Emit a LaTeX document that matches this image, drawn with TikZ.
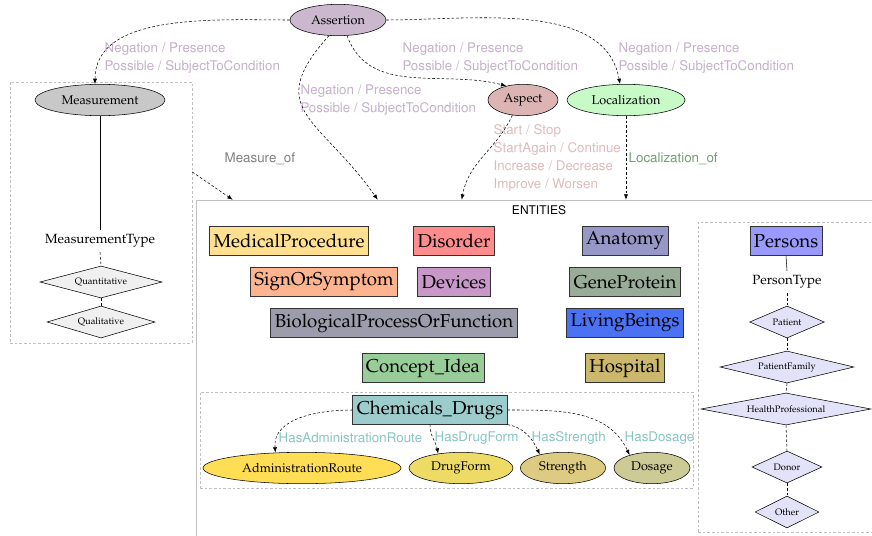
\documentclass[tikz,border=0pt]{standalone}
\usepackage[T1]{fontenc}
\usepackage{mathpazo}
\usepackage{helvet}
\usetikzlibrary{shapes.geometric, arrows.meta, positioning, calc}
\definecolor{assertfill}{HTML}{CBB8CF}
\definecolor{measfill}{HTML}{C8C8C8}
\definecolor{aspectfill}{HTML}{DCB4B4}
\definecolor{locfill}{HTML}{C8FAC8}
\definecolor{neglbl}{HTML}{C4B0C8}
\definecolor{aspectlbl}{HTML}{E0BABA}
\definecolor{loclbl}{HTML}{6FA06F}
\definecolor{druglbl}{HTML}{88C4C4}
\definecolor{medproc}{HTML}{FFE090}
\definecolor{disorder}{HTML}{FF8C8C}
\definecolor{anatomy}{HTML}{9898C8}
\definecolor{signsym}{HTML}{FFB490}
\definecolor{devices}{HTML}{C898C8}
\definecolor{geneprot}{HTML}{98AC98}
\definecolor{bioproc}{HTML}{9C9CAC}
\definecolor{living}{HTML}{4A72F2}
\definecolor{concept}{HTML}{98CC98}
\definecolor{hospital}{HTML}{CCB86C}
\definecolor{chemdrug}{HTML}{9CCCCC}
\definecolor{adminfill}{HTML}{FFDD55}
\definecolor{formfill}{HTML}{EDDB66}
\definecolor{strengthfill}{HTML}{DCCB80}
\definecolor{dosagefill}{HTML}{CCCB96}
\definecolor{personfill}{HTML}{9999FF}
\definecolor{ptypefill}{HTML}{E2E2F8}
\definecolor{mtypefill}{HTML}{F0F0F0}

\begin{document}
\begin{tikzpicture}[
    x=0.75pt, y=-0.75pt,
    entity/.style={rectangle, draw=black!80, minimum height=21.5pt, inner xsep=3pt, inner ysep=0pt, font=\fontsize{14}{16}\selectfont},
    concept/.style={ellipse, draw=black, minimum height=23.5pt, inner sep=0pt, font=\fontsize{9.5}{11}\selectfont},
    choice/.style={diamond, draw=black, inner sep=0pt, minimum height=24pt, font=\fontsize{7}{8}\selectfont},
    group/.style={rectangle, draw=black!25, dash pattern=on 2pt off 1.5pt, thin},
    rel/.style={-{Latex[length=4pt,width=3pt]}, dash pattern=on 2pt off 1.5pt, thin},
    lbl/.style={font=\fontsize{10}{13.5}\selectfont\sffamily, align=left, anchor=west}
]
\useasboundingbox (0,0) rectangle (872,536);

% Groups
\node[group, minimum width=136.5pt, minimum height=195.75pt] (measbox) at (101,212.5) {};
\node[rectangle, draw=black!25, minimum width=528pt, minimum height=300pt] (entities) at (548,400) {};
\node[group, minimum width=369.75pt, minimum height=72pt] (drugbox) at (446.5,440) {};
\node[group, minimum width=150pt, minimum height=232.5pt] (personbox) at (798,377) {};
\node[font=\fontsize{9}{11}\selectfont\sffamily] (enttitle) at (539,210) {ENTITIES};

% Top level
\node[concept, fill=assertfill, minimum width=72pt] (assertion) at (338,20) {Assertion};
\node[concept, fill=measfill, minimum width=97.5pt] (measurement) at (100,100) {Measurement};
\node[concept, fill=aspectfill, minimum width=52.5pt] (aspect) at (523,100) {Aspect};
\node[concept, fill=locfill, minimum width=88.5pt] (localization) at (626,100) {Localization};

% Measurement types
\node[font=\fontsize{10}{12}\selectfont] (mtype) at (100,241) {MeasurementType};
\node[choice, fill=mtypefill, aspect=3.8, minimum width=91.5pt] (quanti) at (101,282) {Quantitative};
\node[choice, fill=mtypefill, aspect=3.4, minimum width=81pt] (quali) at (101,322) {Qualitative};

% Entities
\node[entity, fill=medproc] (medproc) at (289,241) {MedicalProcedure};
\node[entity, fill=disorder] (disorder) at (454,241) {Disorder};
\node[entity, fill=anatomy] (anatomy) at (625,241) {Anatomy};
\node[entity, fill=signsym] (signsym) at (324,282) {SignOrSymptom};
\node[entity, fill=devices] (devices) at (454,282) {Devices};
\node[entity, fill=geneprot] (geneprot) at (625,282) {GeneProtein};
\node[entity, fill=bioproc] (bioproc) at (394,323) {BiologicalProcessOrFunction};
\node[entity, fill=living] (living) at (625,323) {LivingBeings};
\node[entity, fill=concept] (concept) at (423,368) {Concept\_Idea};
\node[entity, fill=hospital] (hospital) at (625,368) {Hospital};
\node[entity, fill=chemdrug] (chemdrug) at (430,410) {Chemicals\_Drugs};

% Drug attributes
\node[concept, fill=adminfill, minimum width=148.5pt] (admin) at (302,468) {AdministrationRoute};
\node[concept, fill=formfill, minimum width=78pt] (drugform) at (461,468) {DrugForm};
\node[concept, fill=strengthfill, minimum width=64pt] (strength) at (563,468) {Strength};
\node[concept, fill=dosagefill, minimum width=57pt] (dosage) at (652,468) {Dosage};

% Persons
\node[entity, fill=personfill] (persons) at (786,241) {Persons};
\node[font=\fontsize{10}{12}\selectfont] (ptype) at (787,282) {PersonType};
\node[choice, fill=ptypefill, aspect=2.33, minimum width=56pt] (patient) at (787,322) {Patient};
\node[choice, fill=ptypefill, aspect=4.2, minimum width=100.5pt] (family) at (787,367) {PatientFamily};
\node[choice, fill=ptypefill, aspect=5.3, minimum width=127.5pt] (healthpro) at (786,409) {HealthProfessional};
\node[choice, fill=ptypefill, aspect=2.2, minimum width=52.5pt] (donor) at (787,467) {Donor};
\node[choice, fill=ptypefill, aspect=2, minimum width=48pt] (other) at (787,512) {Other};

% Labels
\node[lbl, text=neglbl] (neg1) at (100,58) {Negation / Presence\\Possible / SubjectToCondition};
\node[lbl, text=neglbl] (neg2) at (296,100) {Negation / Presence\\Possible / SubjectToCondition};
\node[lbl, text=neglbl] (neg3) at (398,58) {Negation / Presence\\Possible / SubjectToCondition};
\node[lbl, text=neglbl] (neg4) at (614,58) {Negation / Presence\\Possible / SubjectToCondition};
\node[lbl, text=aspectlbl] (aspectvals) at (489,158) {Start / Stop\\StartAgain / Continue\\Increase / Decrease\\Improve / Worsen};
\node[lbl, text=loclbl] (locof) at (624,158) {Localization\_of};
\node[lbl, text=black!50] (measof) at (220,158) {Measure\_of};
\node[lbl, text=druglbl] (hasroute) at (274,438) {HasAdministrationRoute};
\node[lbl, text=druglbl] (hasform) at (430,438) {HasDrugForm};
\node[lbl, text=druglbl] (hasstrength) at (527,438) {HasStrength};
\node[lbl, text=druglbl] (hasdosage) at (620,438) {HasDosage};

% Assertion arrows
\draw[rel] (assertion.west) to[out=180, in=90, looseness=0.9] ($(measurement.north)+(-5,0)$);
\draw[rel] (assertion.240) to[out=228, in=125, looseness=1.5] ($(entities.north west)+(182,0)$);
\draw[rel] (assertion.300) to[out=-70, in=165] (aspect.140);
\draw[rel] (assertion.east) to[out=0, in=100, looseness=0.9] ($(localization.north)+(-6,0)$);

% Aspect, Localization, Measurement
\draw[rel] (aspect.235) to[out=245, in=80] ($(entities.north west)+(266,0)$);
\draw[rel] (localization.south) -- (localization.south |- entities.north);
\draw[rel] ($(measbox.north east)!0.345!(measbox.south east)$) -- ($(entities.north west)+(37,0)$);
\draw (measurement.south) -- (mtype.north);
\draw[dash pattern=on 2pt off 1.5pt] (mtype.south) -- (quanti.north);
\draw[dash pattern=on 2pt off 1.5pt] (quanti.south) -- (quali.north);

% Drug arrows
\draw[rel] (chemdrug.west) to[out=180, in=95] (admin.150);
\draw[rel] (chemdrug.south) to[out=-90, in=100] (drugform.148);
\draw[rel] (chemdrug.south east) to[out=-10, in=115] (strength.150);
\draw[rel] (chemdrug.east) to[out=0, in=115] (dosage.150);

% Person types
\draw (persons.south) -- (ptype.north);
\draw[dash pattern=on 2pt off 1.5pt] (ptype.south) -- (patient.north);
\draw[dash pattern=on 2pt off 1.5pt] (patient.south) -- (family.north);
\draw[dash pattern=on 2pt off 1.5pt] (family.south) -- (healthpro.north);
\draw[dash pattern=on 2pt off 1.5pt] (healthpro.south) -- (donor.north);
\draw[dash pattern=on 2pt off 1.5pt] (donor.south) -- (other.north);

\end{tikzpicture}
\end{document}
